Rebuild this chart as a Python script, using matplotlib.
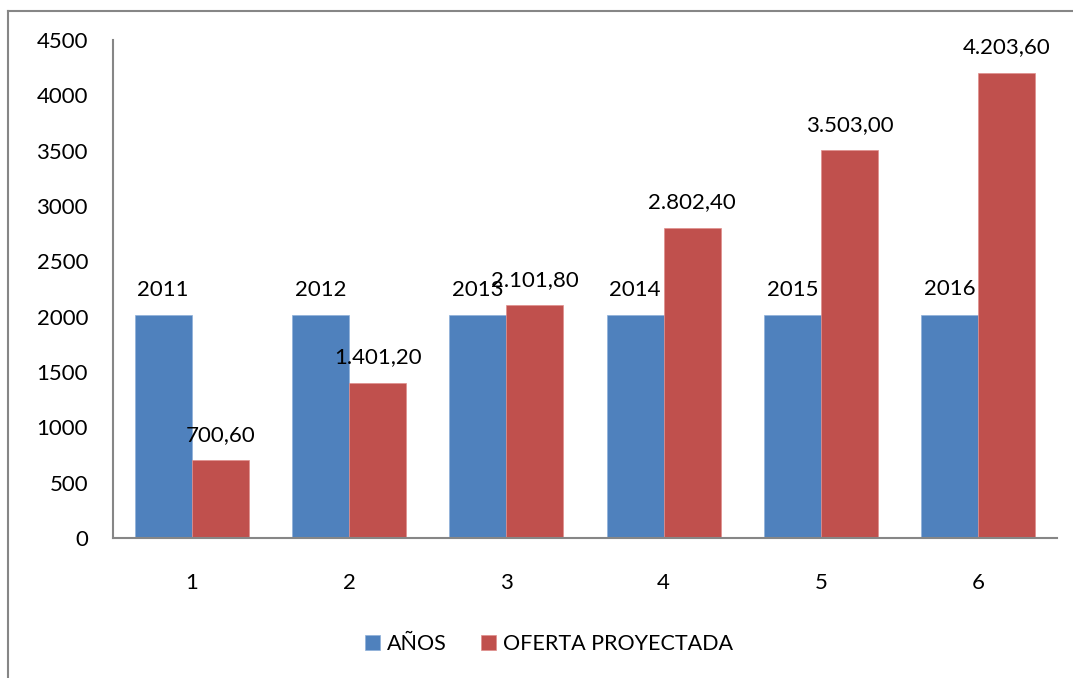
import matplotlib
matplotlib.use("Agg")
import numpy as np
import matplotlib.pyplot as plt
from matplotlib.lines import Line2D

# data
categories = [1, 2, 3, 4, 5, 6]
anos = [2011, 2012, 2013, 2014, 2015, 2016]
oferta = [700.60, 1401.20, 2101.80, 2802.40, 3503.00, 4203.60]
oferta_labels = ["700,60", "1.401,20", "2.101,80", "2.802,40", "3.503,00", "4.203,60"]
y_ticks = [0, 500, 1000, 1500, 2000, 2500, 3000, 3500, 4000, 4500]

plt.rcParams["font.family"] = ["Lato", "DejaVu Sans"]

blue = "#4F81BD"
red = "#C0504D"
gray = "#868686"

fig = plt.figure(figsize=(10.73, 6.78), dpi=100)
ax = fig.add_axes([113 / 1073, 140 / 678, 944 / 1073, 498 / 678])

x = np.array(categories, dtype=float)
w = 0.363
b1 = ax.bar(x - w / 2, anos, width=w, color=blue, edgecolor="#8EB0DA", linewidth=0.5, label="AÑOS")
b2 = ax.bar(x + w / 2, oferta, width=w, color=red, edgecolor="#E08E8C", linewidth=0.5, label="OFERTA PROYECTADA")

# data labels (the 2013 and 2.101,80 labels overlap in the original too)
for xi, v in zip(x, anos):
    ax.text(xi - w / 2, v + 140, str(v), ha="center", va="bottom", fontsize=16)
for xi, v, s in zip(x, oferta, oferta_labels):
    ax.text(xi + w / 2, v + 140, s, ha="center", va="bottom", fontsize=16)

ax.set_xlim(0.5, 6.5)
ax.set_ylim(0, 4500)
ax.set_yticks(y_ticks)
ax.set_xticks(x)
ax.set_xticklabels([str(c) for c in categories])
ax.tick_params(axis="both", length=0, labelsize=16)
ax.tick_params(axis="y", pad=18)
ax.tick_params(axis="x", pad=25)

for side in ["top", "right"]:
    ax.spines[side].set_visible(False)
for side in ["left", "bottom"]:
    ax.spines[side].set_color(gray)
    ax.spines[side].set_linewidth(1.5)

leg = fig.legend(handles=[b1, b2], loc="center", bbox_to_anchor=(549 / 1073, 1 - 644 / 678),
                 ncol=2, frameon=False, fontsize=15.5, handlelength=0.7, handleheight=0.7,
                 handletextpad=0.3, columnspacing=1.6)

# chart area border (only left and top edges are in frame)
fig.add_artist(Line2D([8 / 1073, 8 / 1073], [0, 1 - 11 / 678], transform=fig.transFigure,
                      color=gray, linewidth=1.5))
fig.add_artist(Line2D([8 / 1073, 1], [1 - 11 / 678, 1 - 11 / 678], transform=fig.transFigure,
                      color=gray, linewidth=1.5))

fig.savefig("out.png", dpi=100)
